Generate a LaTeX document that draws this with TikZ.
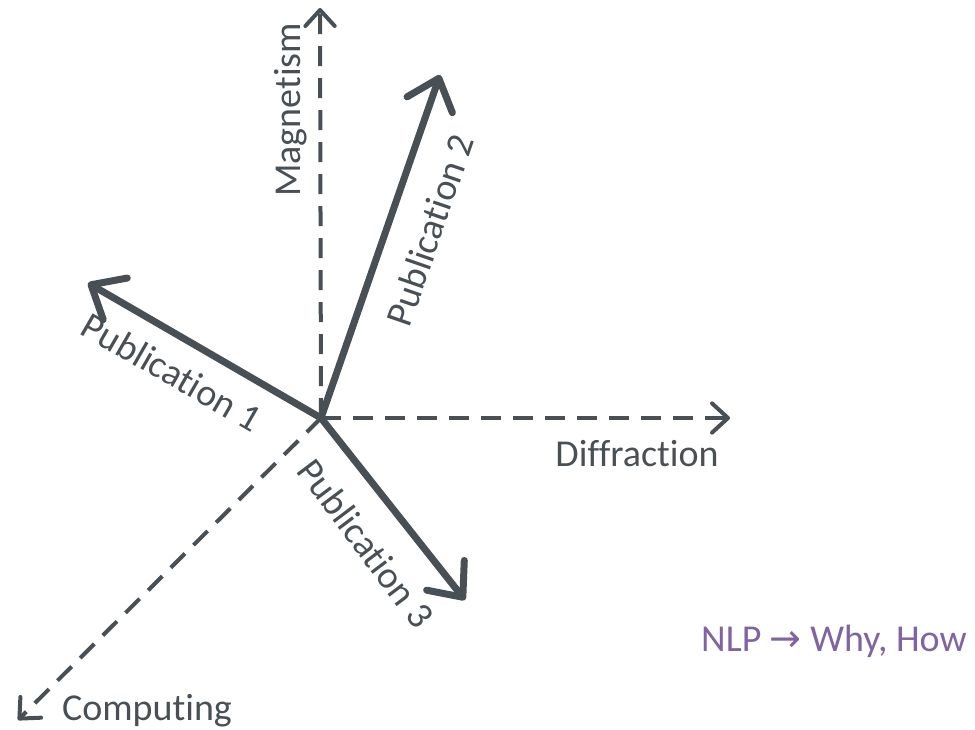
\documentclass[tikz,border=0pt]{standalone}
\usepackage{fontspec}
\setmainfont[Ligatures={TeX,NoCommon}]{Carlito}
\newfontfamily\symfont{DejaVu Sans}
\usetikzlibrary{arrows.meta}
\definecolor{axisgray}{RGB}{72,80,86}
\definecolor{nlppurple}{RGB}{128,100,162}
\begin{document}
\begin{tikzpicture}[x=0.75pt,y=-0.75pt,
  axis/.style={draw=axisgray,line width=3pt,dash pattern=on 15pt off 9pt,
    -{Straight Barb[round,length=12pt,width=22pt,line width=3pt]}},
  pub/.style={draw=axisgray,line width=5.25pt,line cap=round,
    -{Straight Barb[round,length=21pt,width=36pt,line width=5.25pt]}},
  lbl/.style={text=axisgray,font=\fontsize{28.5}{32}\selectfont,inner sep=0pt}]
\useasboundingbox (0,0) rectangle (975,729);
\coordinate (o) at (321,418);
\coordinate (mag) at (320,8);
\coordinate (dif) at (730,418);
\coordinate (comp) at (18,720);
\coordinate (p1) at (88,283);
\coordinate (p2) at (440,75);
\coordinate (p3) at (465,600);
% dashed reference axes
\draw[axis] (o) -- (mag);
\draw[axis] (o) -- (dif);
\draw[axis] (o) -- (comp);
% publication vectors
\draw[pub] (o) -- (p1);
\draw[pub] (o) -- (p2);
\draw[pub] (o) -- (p3);
% labels
\node[lbl,rotate=90] (tmag) at (291,110) {Magnetism};
\node[lbl] (tdif) at (637,454) {Diffraction};
\node[lbl] (tcomp) at (147,711) {Computing};
\node[lbl,rotate=-30] (tp1) at (172,372) {Publication 1};
\node[lbl,rotate=71] (tp2) at (430,230) {Publication 2};
\node[lbl,rotate=-53] (tp3) at (366,543) {Publication 3};
\node[lbl,text=nlppurple] (nlp) at (834,641) {NLP {\symfont →} Why, How};
\end{tikzpicture}
\end{document}
